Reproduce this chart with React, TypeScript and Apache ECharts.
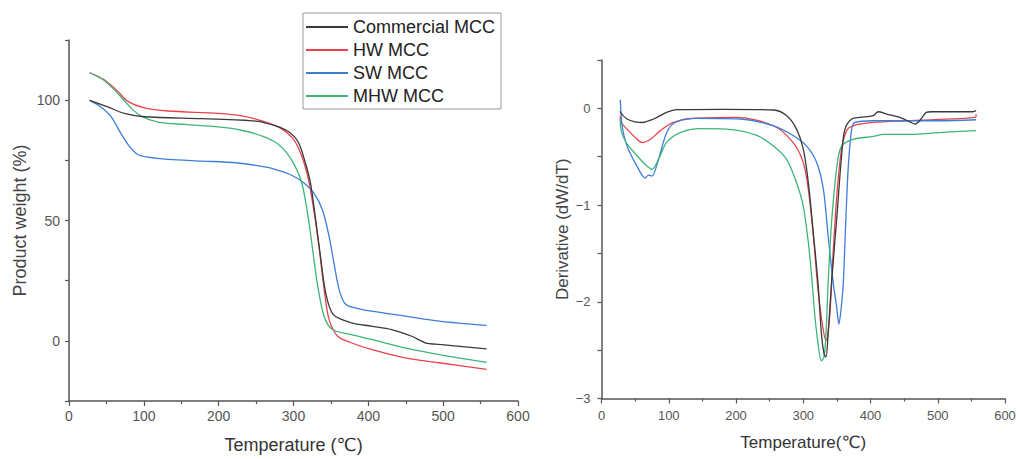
import React, { useEffect, useRef } from "react";
import * as echarts from "echarts";

const seriesNames = ["Commercial MCC", "HW MCC", "SW MCC", "MHW MCC"];
const seriesColors = ["#3a3a3a", "#e8434c", "#3d7ed9", "#3db57a"];
const xTicks = [0, 100, 200, 300, 400, 500, 600];

// Left panel: TGA (Product weight %, vs Temperature °C)
const tgaCommercialX = [27.6, 51, 73.8, 101, 178, 250, 277, 295.5, 306.8, 315.8, 322.6, 329, 336, 343, 353, 377, 404, 431, 458, 476, 494.6, 558];
const tgaCommercialY = [99.9, 97.3, 94.5, 93.1, 92.3, 91.3, 89.2, 86.5, 82.3, 74, 65.7, 51.8, 35.2, 20, 11, 7.5, 6.1, 4.7, 1.9, -0.8, -1.5, -3.3];

const tgaHwX = [27.6, 46.6, 64.7, 78.3, 101, 132.6, 200, 232, 259, 282, 300, 311, 320, 327, 334, 341, 347.5, 359, 377, 404, 449, 494.6, 558];
const tgaHwY = [111.4, 108.6, 103.8, 99.6, 96.8, 95.5, 94.5, 93.4, 91.3, 88.5, 83.7, 76.8, 67, 54.6, 39.3, 21.3, 8.9, 1.9, -0.8, -3.6, -7.1, -9.1, -11.9];

const tgaSwX = [27.6, 42, 55.7, 69, 80.5, 92, 105.4, 132.6, 178, 223, 250, 273, 295.5, 313.6, 327, 338.5, 347.5, 354, 361, 368, 377, 404, 449, 494.6, 558];
const tgaSwY = [99.9, 97.3, 93.4, 86.4, 80.9, 77.4, 76.3, 75.4, 74.7, 74, 72.9, 71.5, 69.1, 65.7, 61.5, 54.6, 43.5, 32.4, 21.3, 15.8, 14.1, 12.3, 10.3, 8.2, 6.4];

const tgaMhwX = [27.6, 46.6, 64.7, 82.8, 96.4, 119, 155, 200, 232, 259, 277, 291, 302, 311, 318, 325, 331.7, 340.7, 352, 377, 404, 449, 494.6, 558];
const tgaMhwY = [111.4, 108.3, 103, 96.8, 93.4, 90.9, 89.9, 88.9, 87.4, 85, 82.3, 78.1, 72.6, 65.7, 54.6, 39.3, 24.1, 10.3, 4.7, 2.6, 0.6, -2.9, -5.7, -8.9];

// Right panel: DTG (Derivative dW/dT vs Temperature °C)
const dtgCommercialX = [28, 28.2, 38, 50, 60.4, 77.6, 97.5, 112, 180, 255.7, 275.5, 290, 300, 307.6, 315, 322, 327, 331, 333.8, 337, 342, 350, 357, 362, 372, 384, 404, 411.5, 424, 443.6, 458.5, 466, 473, 483, 490.6, 552, 557];
const dtgCommercialY = [-0.03, -0.04, -0.11, -0.14, -0.146, -0.11, -0.04, -0.014, -0.01, -0.017, -0.076, -0.215, -0.42, -0.77, -1.29, -1.81, -2.33, -2.54, -2.57, -2.33, -1.81, -1.12, -0.49, -0.215, -0.11, -0.094, -0.076, -0.035, -0.059, -0.094, -0.139, -0.163, -0.128, -0.042, -0.035, -0.035, -0.024];

const dtgHwX = [28, 28.2, 38, 50, 60.4, 72.8, 87.6, 107, 136.6, 200, 255.7, 285, 300, 307.6, 315, 322, 329, 333.8, 336, 340, 344.7, 350.6, 357, 364.5, 374, 404, 453.5, 556, 557];
const dtgHwY = [-0.08, -0.13, -0.215, -0.3, -0.354, -0.32, -0.23, -0.146, -0.104, -0.094, -0.18, -0.354, -0.56, -0.84, -1.32, -1.88, -2.26, -2.4, -2.37, -2.09, -1.46, -0.84, -0.42, -0.23, -0.18, -0.146, -0.128, -0.094, -0.06];

const dtgSwX = [28, 28.6, 30.6, 38, 52.9, 65, 70, 75, 84.6, 97, 109.4, 136.6, 206, 255.7, 285, 305, 320, 330, 337, 344.7, 349.6, 353, 356, 359.5, 363.5, 367, 372, 377, 404, 503, 557];
const dtgSwY = [0.09, 0.0, -0.18, -0.39, -0.6, -0.72, -0.69, -0.70, -0.53, -0.25, -0.146, -0.104, -0.11, -0.18, -0.28, -0.39, -0.56, -0.84, -1.32, -1.81, -2.05, -2.23, -2.09, -1.81, -1.12, -0.6, -0.215, -0.146, -0.128, -0.128, -0.118];

const dtgMhwX = [28, 28.2, 35.6, 52.9, 65, 75, 84.6, 97, 116.8, 146.4, 186, 231, 255.7, 275.5, 290, 300, 307.6, 312.5, 317.5, 322, 327, 331, 333.8, 337, 342, 350, 357, 374, 404, 419, 453.5, 503, 557];
const dtgMhwY = [-0.12, -0.18, -0.34, -0.49, -0.58, -0.63, -0.53, -0.35, -0.25, -0.21, -0.215, -0.28, -0.39, -0.53, -0.77, -1.01, -1.39, -1.74, -2.16, -2.43, -2.61, -2.57, -2.33, -1.81, -1.19, -0.6, -0.39, -0.32, -0.29, -0.27, -0.27, -0.25, -0.23];

const zip = (xs: number[], ys: number[]) => xs.map((x, i) => [x, ys[i]]);

const tgaData = [
  zip(tgaCommercialX, tgaCommercialY),
  zip(tgaHwX, tgaHwY),
  zip(tgaSwX, tgaSwY),
  zip(tgaMhwX, tgaMhwY),
];
const dtgData = [
  zip(dtgCommercialX, dtgCommercialY),
  zip(dtgHwX, dtgHwY),
  zip(dtgSwX, dtgSwY),
  zip(dtgMhwX, dtgMhwY),
];

const FONT = "'Liberation Sans', Arial, 'DejaVu Sans', sans-serif";
const AXIS_COLOR = "#555";

export default function App() {
  const ref = useRef<HTMLDivElement>(null);

  useEffect(() => {
    if (!ref.current) return;
    const chart = echarts.init(ref.current, undefined, { renderer: "svg" });

    const xAxisCommon = (gridIndex: number, fontSize: number, margin: number, nameSize: number, nameGap: number, name: string) => ({
      type: "value",
      gridIndex,
      min: xTicks[0],
      max: xTicks[xTicks.length - 1],
      interval: 100,
      name,
      nameLocation: "middle",
      nameGap,
      nameTextStyle: { fontSize: nameSize, color: "#333", fontFamily: FONT },
      axisLine: { show: true, onZero: false, lineStyle: { color: AXIS_COLOR, width: 1.5 } },
      axisTick: { show: true, length: 5, lineStyle: { color: AXIS_COLOR, width: 1.2 } },
      minorTick: { show: true, splitNumber: 2, length: 3, lineStyle: { color: AXIS_COLOR, width: 1.2 } },
      axisLabel: { fontSize, color: "#555", margin, fontFamily: FONT },
      splitLine: { show: false },
    });

    const series: any[] = [];
    seriesNames.forEach((name, i) => {
      series.push({
        name,
        type: "line",
        xAxisIndex: 0,
        yAxisIndex: 0,
        data: tgaData[i],
        showSymbol: false,
        smooth: 0.3,
        lineStyle: { color: seriesColors[i], width: 1.3 },
        itemStyle: { color: seriesColors[i] },
        z: i === 0 ? 5 : 2,
      });
    });
    seriesNames.forEach((name, i) => {
      series.push({
        name,
        type: "line",
        xAxisIndex: 1,
        yAxisIndex: 1,
        data: dtgData[i],
        showSymbol: false,
        smooth: 0.3,
        lineStyle: { color: seriesColors[i], width: 1.3 },
        itemStyle: { color: seriesColors[i] },
        z: i === 0 ? 5 : 2,
      });
    });

    chart.setOption({
      animation: false,
      backgroundColor: "#fff",
      textStyle: { fontFamily: FONT },
      legend: {
        data: seriesNames,
        orient: "vertical",
        left: 303,
        top: 13,
        padding: [5, 6, 4, 3],
        itemGap: 5,
        itemWidth: 42,
        itemHeight: 2,
        icon: "rect",
        borderColor: "#999",
        borderWidth: 1,
        textStyle: { fontSize: 18, color: "#222", fontFamily: FONT, lineHeight: 18 },
        selectedMode: false,
      },
      grid: [
        { left: 69, top: 40, width: 449, height: 363, containLabel: false },
        { left: 601.5, top: 60, width: 403.5, height: 338.5, containLabel: false },
      ],
      xAxis: [
        xAxisCommon(0, 14, 8, 18, 35, "Temperature (℃)"),
        xAxisCommon(1, 13, 10, 17, 35, "Temperature(℃)"),
      ],
      yAxis: [
        {
          type: "value",
          gridIndex: 0,
          min: -25,
          max: 125,
          interval: 25,
          name: "Product weight (%)",
          nameLocation: "middle",
          nameRotate: 90,
          nameGap: 40,
          nameTextStyle: { fontSize: 18, color: "#444", fontFamily: FONT },
          axisLine: { show: true, onZero: false, lineStyle: { color: AXIS_COLOR, width: 1.5 } },
          axisTick: { show: true, length: 4, lineStyle: { color: AXIS_COLOR, width: 1.2 } },
          axisLabel: {
            fontSize: 14,
            color: "#555",
            margin: 9,
            fontFamily: FONT,
            formatter: (v: number) => (v % 50 === 0 ? String(v) : ""),
          },
          splitLine: { show: false },
        },
        {
          type: "value",
          gridIndex: 1,
          min: -3,
          max: 0.5,
          interval: 0.5,
          name: "Derivative (dW/dT)",
          nameLocation: "middle",
          nameRotate: 90,
          nameGap: 31,
          nameTextStyle: { fontSize: 17, color: "#444", fontFamily: FONT },
          axisLine: { show: true, onZero: false, lineStyle: { color: AXIS_COLOR, width: 1.5 } },
          axisTick: { show: true, length: 4, lineStyle: { color: AXIS_COLOR, width: 1.2 } },
          axisLabel: {
            fontSize: 13,
            color: "#555",
            margin: 11,
            fontFamily: FONT,
            formatter: (v: number) => {
              const r = Math.round(v * 1000) / 1000;
              return Number.isInteger(r) ? String(r).replace("-", "−") : "";
            },
          },
          splitLine: { show: false },
        },
      ],
      series,
    });

    return () => chart.dispose();
  }, []);

  return (
    <div
      ref={ref}
      style={{ position: "fixed", left: 0, top: 0, width: 1019, height: 459, background: "#fff" }}
    />
  );
}
